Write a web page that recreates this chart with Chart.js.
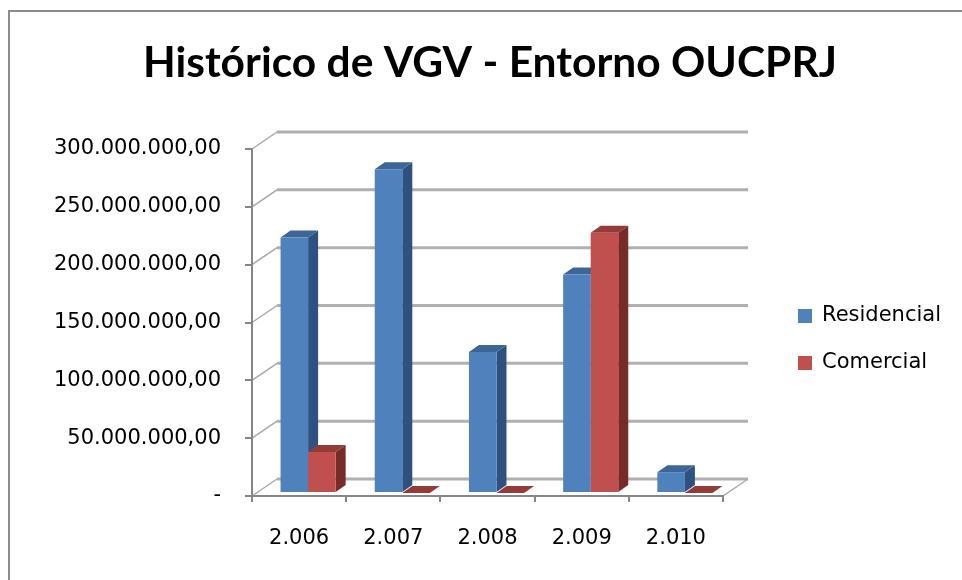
<!DOCTYPE html>
<html>
<head>
<meta charset="utf-8">
<script src="https://cdn.jsdelivr.net/npm/chart.js@4.4.1/dist/chart.umd.min.js"></script>
<style>
  html, body { margin: 0; padding: 0; background: #fff; }
  #wrap { width: 962px; height: 580px; }
</style>
</head>
<body>
<div id="wrap"><canvas id="vgvChart" width="962" height="580"></canvas></div>
<script>
// dados do gráfico
const categories = ["2.006", "2.007", "2.008", "2.009", "2.010"];
const residencial = [221000000, 280000000, 122000000, 189000000, 18000000];
const comercial = [35500000, 0, 0, 225000000, 0];
const yTicks = [0, 50000000, 100000000, 150000000, 200000000, 250000000, 300000000];
const titleText = "Histórico de VGV - Entorno OUCPRJ";

const blue = { front: "#4F81BD", side: "#2F5180", top: "#3C6698" };
const red = { front: "#C0504D", side: "#772C2A", top: "#943A37" };
const faces = [blue, red];

const wall = { dx: 25, dy: -17 };   // parede do fundo
const depth = { dx: 10, dy: -7 };   // profundidade da barra
const shift = { dx: 9, dy: -3 };    // barras um pouco atrás do plano da frente

function fmt(v) {
  if (v === 0) return "-";
  return v.toLocaleString("pt-BR", { minimumFractionDigits: 2, maximumFractionDigits: 2 });
}

const backdrop = {
  id: "backdrop",
  beforeDraw(chart) {
    const ctx = chart.ctx;
    const area = chart.chartArea;
    const y = chart.scales.y;
    ctx.save();
    ctx.fillStyle = "#fff";
    ctx.fillRect(0, 0, chart.width, chart.height);

    // moldura
    ctx.strokeStyle = "#8C8C8C";
    ctx.lineWidth = 2;
    ctx.beginPath();
    ctx.moveTo(9, 580);
    ctx.lineTo(9, 11);
    ctx.lineTo(962, 11);
    ctx.stroke();

    // linhas de grade na parede do fundo
    yTicks.forEach(v => {
      const py = y.getPixelForValue(v);
      ctx.strokeStyle = "#B0B0B0";
      ctx.lineWidth = 3;
      ctx.beginPath();
      ctx.moveTo(area.left + wall.dx, py + wall.dy);
      ctx.lineTo(area.right + wall.dx, py + wall.dy);
      ctx.stroke();
      ctx.strokeStyle = "#A8A8A8";
      ctx.lineWidth = 1.5;
      ctx.beginPath();
      ctx.moveTo(area.left, py);
      ctx.lineTo(area.left + wall.dx, py + wall.dy);
      ctx.stroke();
    });
    // canto direito do piso
    ctx.strokeStyle = "#A8A8A8";
    ctx.lineWidth = 1.5;
    ctx.beginPath();
    ctx.moveTo(area.right, area.bottom);
    ctx.lineTo(area.right + wall.dx, area.bottom + wall.dy);
    ctx.stroke();

    // título
    ctx.fillStyle = "#000";
    ctx.font = "bold 42px Lato";
    ctx.textBaseline = "alphabetic";
    ctx.textAlign = "center";
    const w = ctx.measureText(titleText).width;
    ctx.translate(490, 77);
    ctx.scale(694 / w, 1);
    ctx.fillText(titleText, 0, 0);
    ctx.restore();
  },
  afterDraw(chart) {
    // legenda
    const ctx = chart.ctx;
    ctx.save();
    ctx.font = "21px 'DejaVu Sans'";
    ctx.textBaseline = "middle";
    ctx.textAlign = "left";
    chart.data.datasets.forEach((ds, i) => {
      const cy = 316 + i * 47;
      ctx.fillStyle = ds.backgroundColor;
      ctx.fillRect(798, cy - 7, 14, 14);
      ctx.fillStyle = "#000";
      ctx.fillText(ds.label, 822, cy);
    });
    ctx.restore();
  }
};

const bars3d = {
  id: "bars3d",
  beforeDatasetsDraw(chart) {
    const ctx = chart.ctx;
    ctx.save();
    ctx.translate(shift.dx, shift.dy);
    chart.data.datasets.forEach((ds, di) => {
      const meta = chart.getDatasetMeta(di);
      const c = faces[di];
      meta.data.forEach(bar => {
        const p = bar.getProps(["x", "y", "base", "width"], true);
        const l = p.x - p.width / 2, r = p.x + p.width / 2;
        // lateral
        ctx.fillStyle = c.side;
        ctx.beginPath();
        ctx.moveTo(r, p.y);
        ctx.lineTo(r + depth.dx, p.y + depth.dy);
        ctx.lineTo(r + depth.dx, p.base + depth.dy);
        ctx.lineTo(r, p.base);
        ctx.closePath();
        ctx.fill();
        // topo
        ctx.fillStyle = c.top;
        ctx.beginPath();
        ctx.moveTo(l, p.y);
        ctx.lineTo(l + depth.dx, p.y + depth.dy);
        ctx.lineTo(r + depth.dx, p.y + depth.dy);
        ctx.lineTo(r, p.y);
        ctx.closePath();
        ctx.fill();
      });
    });
  },
  afterDatasetsDraw(chart) {
    chart.ctx.restore();
  }
};

const ctx = document.getElementById("vgvChart").getContext("2d");
new Chart(ctx, {
  type: "bar",
  data: {
    labels: categories,
    datasets: [
      { label: "Residencial", data: residencial, backgroundColor: blue.front, borderWidth: 0 },
      { label: "Comercial", data: comercial, backgroundColor: red.front, borderWidth: 0 }
    ]
  },
  options: {
    responsive: false,
    animation: false,
    categoryPercentage: 0.585,
    barPercentage: 1,
    layout: { padding: { left: 0, top: 149, right: 239, bottom: 0 } },
    plugins: {
      legend: { display: false },
      title: { display: false },
      tooltip: { enabled: false }
    },
    scales: {
      x: {
        offset: true,
        grid: { offset: true, drawOnChartArea: false, tickLength: 6, color: "#868686", lineWidth: 2 },
        border: { display: true, color: "#868686", width: 2 },
        ticks: { color: "#000", padding: 24, font: { family: "DejaVu Sans", size: 21 } },
        afterFit(scale) { scale.height = 84; }
      },
      y: {
        min: 0,
        max: 300000000,
        afterBuildTicks(scale) { scale.ticks = yTicks.map(v => ({ value: v })); },
        grid: { drawOnChartArea: false, tickLength: 7, color: "#868686", lineWidth: 2 },
        border: { display: true, color: "#868686", width: 2 },
        ticks: {
          color: "#000",
          padding: 24,
          font: { family: "DejaVu Sans", size: 21 },
          callback: v => fmt(v)
        },
        afterFit(scale) { scale.width = 252; }
      }
    }
  },
  plugins: [backdrop, bars3d]
});
</script>
</body>
</html>
